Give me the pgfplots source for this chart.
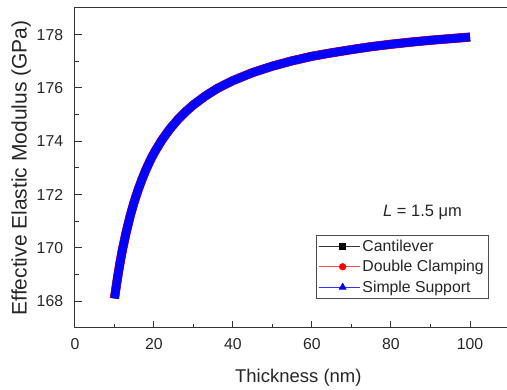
\documentclass[border=0pt]{standalone}
\usepackage{pgfplots}
\pgfplotsset{compat=1.18}
\usepackage{pgfplotstable}
\usepackage{fontspec}
\setmainfont{Liberation Sans}
\usetikzlibrary{calc}

\pgfplotstableread{
h E
10 168.11
10.5 168.63
11 169.10
11.5 169.53
12 169.93
13 170.62
14 171.22
15 171.74
16 172.19
17 172.59
18 172.95
19 173.27
20 173.56
22 174.05
24 174.46
26 174.81
28 175.11
30 175.37
33 175.70
36 175.98
40 176.28
45 176.58
50 176.82
55 177.02
60 177.19
65 177.32
70 177.44
75 177.55
80 177.64
85 177.72
90 177.79
95 177.85
100 177.91
}\cantilever

\pgfplotstableread{
h E
10 168.11
10.5 168.63
11 169.10
11.5 169.53
12 169.93
13 170.62
14 171.22
15 171.74
16 172.19
17 172.59
18 172.95
19 173.27
20 173.56
22 174.05
24 174.46
26 174.81
28 175.11
30 175.37
33 175.70
36 175.98
40 176.28
45 176.58
50 176.82
55 177.02
60 177.19
65 177.32
70 177.44
75 177.55
80 177.64
85 177.72
90 177.79
95 177.85
100 177.91
}\doubleclamp

\pgfplotstableread{
h E
10 168.11
10.5 168.63
11 169.10
11.5 169.53
12 169.93
13 170.62
14 171.22
15 171.74
16 172.19
17 172.59
18 172.95
19 173.27
20 173.56
22 174.05
24 174.46
26 174.81
28 175.11
30 175.37
33 175.70
36 175.98
40 176.28
45 176.58
50 176.82
55 177.02
60 177.19
65 177.32
70 177.44
75 177.55
80 177.64
85 177.72
90 177.79
95 177.85
100 177.91
}\simplesupport

\definecolor{myblue}{RGB}{0,0,255}
\definecolor{myred}{RGB}{255,0,0}

\begin{document}
\begin{tikzpicture}
\useasboundingbox (-75pt,-62pt) rectangle (432pt,328pt);
\begin{axis}[
  scale only axis,
  width=434.5pt, height=320pt,
  xmin=0, xmax=110, ymin=167, ymax=179,
  xtick={0,20,40,60,80,100},
  ytick={168,170,172,174,176,178},
  minor x tick num=1, minor y tick num=1,
  xtick pos=bottom, ytick pos=left,
  tick align=inside,
  major tick length=7pt, minor tick length=4pt,
  axis line style={black!80, line width=1pt},
  every tick/.style={black!80, line width=1pt},
  /pgf/number format/assume math mode=true,
  tick label style={font=\fontsize{15.8}{18}\selectfont, black!85},
  xticklabel style={anchor=north, inner sep=0pt, yshift=-10.3pt},
  yticklabel style={anchor=east, inner sep=0pt, xshift=-11.7pt},
  xlabel={Thickness (nm)},
  ylabel={Effective Elastic Modulus (GPa)},
  every axis x label/.style={at={($(axis description cs:0.514,0)+(0,-55pt)$)}, anchor=base, font=\fontsize{18.5}{22}\selectfont, black!85},
  every axis y label/.style={at={($(axis description cs:0,0.5)+(-48.3pt,0)$)}, rotate=90, anchor=base, font=\fontsize{21}{25}\selectfont, black!85},
  legend style={at={(axis description cs:0.5547,0.2906)}, anchor=north west,
    draw=black!70, line width=0.7pt, font=\fontsize{15.8}{18}\selectfont,
    inner xsep=2pt, inner ysep=2pt, row sep=2.5pt,
    nodes={inner sep=2.5pt, text=black!85}},
  legend cell align=left,
  legend image code/.code={\path (0pt,0pt) -- (41pt,0pt);\draw[mark repeat=2, mark phase=2] plot coordinates {(7pt,0pt) (24pt,0pt) (41pt,0pt)};},
]
\addplot[black, line width=8.5pt, line join=round, forget plot] table[x=h, y=E] {\cantilever};
\addplot[myred, line width=9.2pt, line join=round, forget plot] table[x=h, y=E] {\doubleclamp};
\addplot[myblue, line width=8.5pt, line join=round, forget plot] table[x=h, y=E] {\simplesupport};

\addlegendimage{black!80, line width=0.6pt, mark=square*, mark size=3pt, mark options={black}}
\addlegendentry{Cantilever}
\addlegendimage{myred!70, line width=0.6pt, mark=*, mark size=3.3pt, mark options={myred}}
\addlegendentry{Double Clamping}
\addlegendimage{myblue!80, line width=0.6pt, mark=triangle*, mark size=4pt, mark options={myblue}}
\addlegendentry{Simple Support}

\node[font=\fontsize{16.5}{19}\selectfont, black!85] at (axis cs:88.0,171.33) {\textit{L} = 1.5 μm};
\end{axis}
\end{tikzpicture}
\end{document}
